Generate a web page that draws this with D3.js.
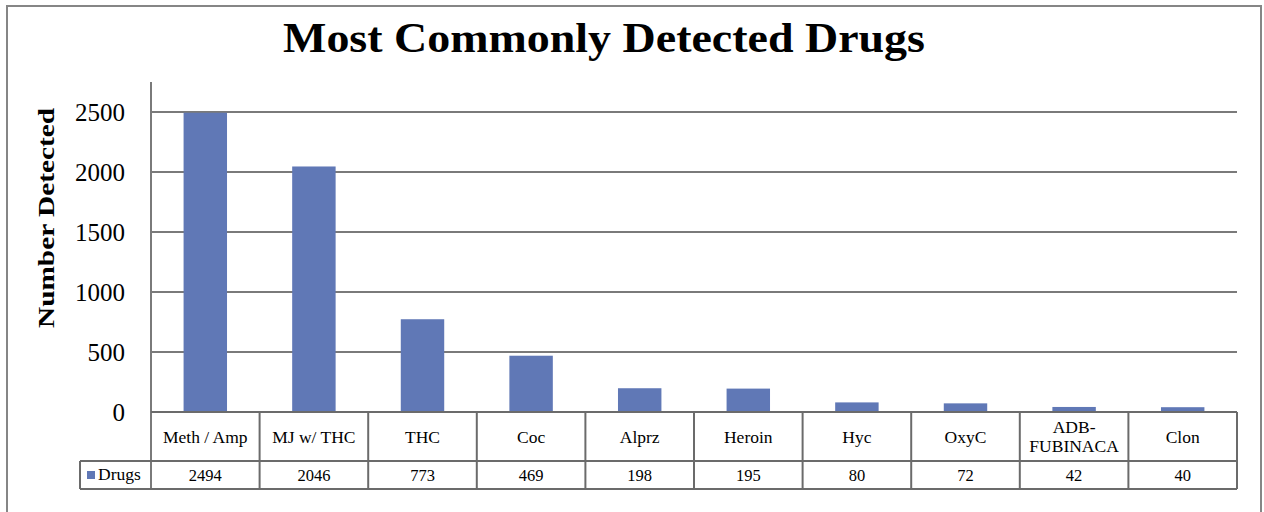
<!DOCTYPE html>
<html>
<head>
<meta charset="utf-8">
<script src="https://cdn.jsdelivr.net/npm/d3@7"></script>
<style>
  html, body { margin: 0; padding: 0; background: #fff; }
  svg { display: block; }
  text { font-family: "Liberation Serif", "DejaVu Serif", serif; fill: #000; }
</style>
</head>
<body>
<svg id="chart" width="1264" height="512"></svg>
<script>
// Drug detection counts
const categories = [["Meth / Amp"], ["MJ w/ THC"], ["THC"], ["Coc"], ["Alprz"], ["Heroin"], ["Hyc"], ["OxyC"], ["ADB-", "FUBINACA"], ["Clon"]];
const drugs = [2494, 2046, 773, 469, 198, 195, 80, 72, 42, 40];
const yTicks = [0, 500, 1000, 1500, 2000, 2500];
const seriesName = "Drugs";
const titleText = "Most Commonly Detected Drugs";
const yTitle = "Number Detected";

const svg = d3.select("#chart");
const barColor = "#6078b6";
const lineColor = "#7a7a7a";

const plot = { left: 151, right: 1237, top: 82, bottom: 412 };
const headerBottom = 461, rowBottom = 489, legendLeft = 80;

// outer frame
svg.append("rect").attr("x", 7).attr("y", 6).attr("width", 1254).attr("height", 520)
  .attr("fill", "none").attr("stroke", "#868686").attr("stroke-width", 2);

// title
svg.append("text").attr("x", 604).attr("y", 52).attr("text-anchor", "middle")
  .attr("font-size", 42).attr("font-weight", "bold")
  .attr("textLength", 642).attr("lengthAdjust", "spacingAndGlyphs")
  .text(titleText);

const keys = categories.map((c, i) => i);
const x = d3.scaleBand().domain(keys).range([plot.left, plot.right]).padding(0);
const y = d3.scaleLinear().domain([0, 2500]).range([plot.bottom, 112]);

// gridlines
svg.append("g").selectAll("line").data(yTicks.filter(t => t > 0)).join("line")
  .attr("x1", plot.left).attr("x2", plot.right)
  .attr("y1", d => y(d)).attr("y2", d => y(d))
  .attr("stroke", lineColor).attr("stroke-width", 2);

// y axis via d3.axisLeft, restyled
const yAxis = svg.append("g").attr("transform", `translate(${plot.left},0)`)
  .call(d3.axisLeft(y).tickValues(yTicks).tickSize(0).tickPadding(26).tickFormat(d3.format("d")));
yAxis.select(".domain").remove();
yAxis.selectAll("text").attr("font-size", 25).attr("font-family", "Liberation Serif, serif").attr("fill", "#000").attr("dy", "0.32em");

// bars
const bw = x.bandwidth() * 0.4;
svg.append("g").selectAll("rect").data(drugs).join("rect")
  .attr("x", (d, i) => x(i) + (x.bandwidth() - bw) / 2)
  .attr("width", bw)
  .attr("y", d => y(d))
  .attr("height", d => y(0) - y(d))
  .attr("fill", barColor);

// vertical axis line
svg.append("line").attr("x1", plot.left).attr("x2", plot.left).attr("y1", plot.top).attr("y2", rowBottom)
  .attr("stroke", lineColor).attr("stroke-width", 2);

// data table
const tbl = svg.append("g").attr("stroke", "#6b6b6b").attr("stroke-width", 2);
tbl.append("line").attr("x1", plot.left).attr("x2", plot.right).attr("y1", plot.bottom).attr("y2", plot.bottom);
tbl.append("line").attr("x1", legendLeft).attr("x2", plot.right).attr("y1", headerBottom).attr("y2", headerBottom);
tbl.append("line").attr("x1", legendLeft).attr("x2", plot.right).attr("y1", rowBottom).attr("y2", rowBottom);
tbl.append("line").attr("x1", legendLeft).attr("x2", legendLeft).attr("y1", headerBottom).attr("y2", rowBottom);
tbl.selectAll("line.sep").data(keys.slice(1).concat([keys.length])).join("line").attr("class", "sep")
  .attr("x1", d => d < keys.length ? x(d) : plot.right)
  .attr("x2", d => d < keys.length ? x(d) : plot.right)
  .attr("y1", plot.bottom).attr("y2", rowBottom);

// category labels
const cat = svg.append("g").selectAll("text").data(categories).join("text")
  .attr("x", (d, i) => x(i) + x.bandwidth() / 2)
  .attr("y", d => d.length > 1 ? 433 : 443)
  .attr("text-anchor", "middle").attr("font-size", 17.5);
cat.each(function(d) {
  d.forEach((line, j) => d3.select(this).append("tspan")
    .attr("x", d3.select(this).attr("x")).attr("dy", j === 0 ? 0 : 19).text(line));
});

// values
svg.append("g").selectAll("text").data(drugs).join("text")
  .attr("x", (d, i) => x(i) + x.bandwidth() / 2).attr("y", 481)
  .attr("text-anchor", "middle").attr("font-size", 16.5).text(d => d);

// legend key
svg.append("rect").attr("x", 87).attr("y", 471).attr("width", 8).attr("height", 8).attr("fill", barColor);
svg.append("text").attr("x", 98).attr("y", 480).attr("font-size", 17.5).text(seriesName);

// y title
svg.append("text").attr("transform", "translate(54,218) rotate(-90)")
  .attr("text-anchor", "middle").attr("font-size", 24).attr("font-weight", "bold")
  .attr("textLength", 220).attr("lengthAdjust", "spacingAndGlyphs")
  .text(yTitle);
</script>
</body>
</html>
